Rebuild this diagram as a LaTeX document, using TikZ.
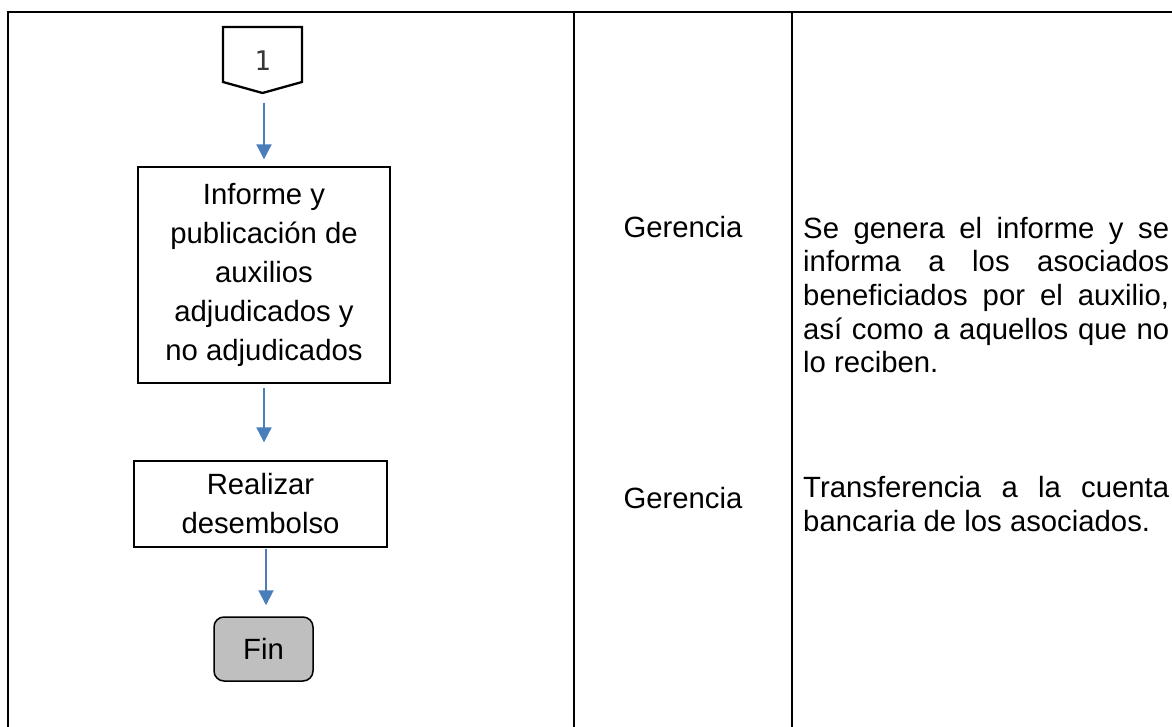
\documentclass[tikz,border=0pt]{standalone}
\usepackage{fontspec}
\setmainfont{Liberation Sans}
\newfontfamily\monofam{DejaVu Sans Mono}
\usetikzlibrary{arrows.meta,calc}
\definecolor{arrblue}{RGB}{74,126,187}
\definecolor{fingray}{RGB}{191,191,191}
\definecolor{numgray}{RGB}{55,55,55}
\begin{document}
\begin{tikzpicture}[x=1pt,y=-1pt,
  gridline/.style={line width=2.2pt,black},
  procbox/.style={draw=black,line width=1.3pt,align=center,inner sep=0pt,
    font=\fontsize{29.3}{39}\selectfont},
  endbox/.style={draw=black,line width=1.5pt,fill=fingray,rounded corners=10pt,
    inner sep=0pt,font=\fontsize{29.3}{35}\selectfont},
  flowarr/.style={draw=arrblue,line width=2pt,-{Triangle[width=15pt,length=15pt]}},
  roletext/.style={font=\fontsize{29.3}{34}\selectfont},
  desctext/.style={font=\fontsize{29.3}{33.6}\selectfont,text width=366pt,
    align=justify,inner sep=0pt,anchor=west}
  ]
\useasboundingbox (0,0) rectangle (1172,727);
% table lines
\coordinate (tl) at (8,12);
\coordinate (tr) at (1172,12);
\coordinate (bl) at (8,727);
\coordinate (c1t) at (574,12);
\coordinate (c1b) at (574,727);
\coordinate (c2t) at (792,12);
\coordinate (c2b) at (792,727);
\draw[gridline] (bl) -- (tl) -- (tr);
\draw[gridline] (c1t) -- (c1b);
\draw[gridline] (c2t) -- (c2b);
% off-page connector
\draw[line width=2.3pt,black,line join=miter] (223,27) -- (302,27) -- (302,82) -- (262.5,93) -- (223,82) -- cycle;
\node[font=\monofam\fontsize{27}{27}\selectfont,text=numgray] (con) at (262.5,61) {1};
\coordinate (conb) at (264,93);
% process boxes
\node[procbox,minimum width=252pt,minimum height=216pt] (inf) at (264,275)
  {Informe y\\publicación de\\auxilios\\adjudicados y\\no adjudicados};
\node[procbox,minimum width=253pt,minimum height=86pt] (des) at (260.5,504)
  {Realizar\\desembolso};
\node[endbox,minimum width=99pt,minimum height=64pt] (fin) at (263.5,649) {Fin};
\coordinate (desb) at (266,547);
% arrows
\draw[flowarr,shorten <=10pt,shorten >=7pt] (conb) -- (conb |- inf.north);
\draw[flowarr,shorten <=4pt,shorten >=18pt] (inf.south) -- (inf.south |- des.north);
\draw[flowarr,shorten <=2pt,shorten >=11pt] (desb) -- (desb |- fin.north);
% roles
\node[roletext] (r1) at (683,227) {Gerencia};
\node[roletext] (r2) at (683,498) {Gerencia};
% descriptions
\node[desctext] (d1) at (803,295)
  {Se genera el informe y se\linebreak informa a los asociados\linebreak beneficiados por el auxilio,\linebreak así como a aquellos que no\linebreak lo reciben.};
\node[desctext] (d2) at (803,504)
  {Transferencia a la cuenta\linebreak bancaria de los asociados.};
\end{tikzpicture}
\end{document}
